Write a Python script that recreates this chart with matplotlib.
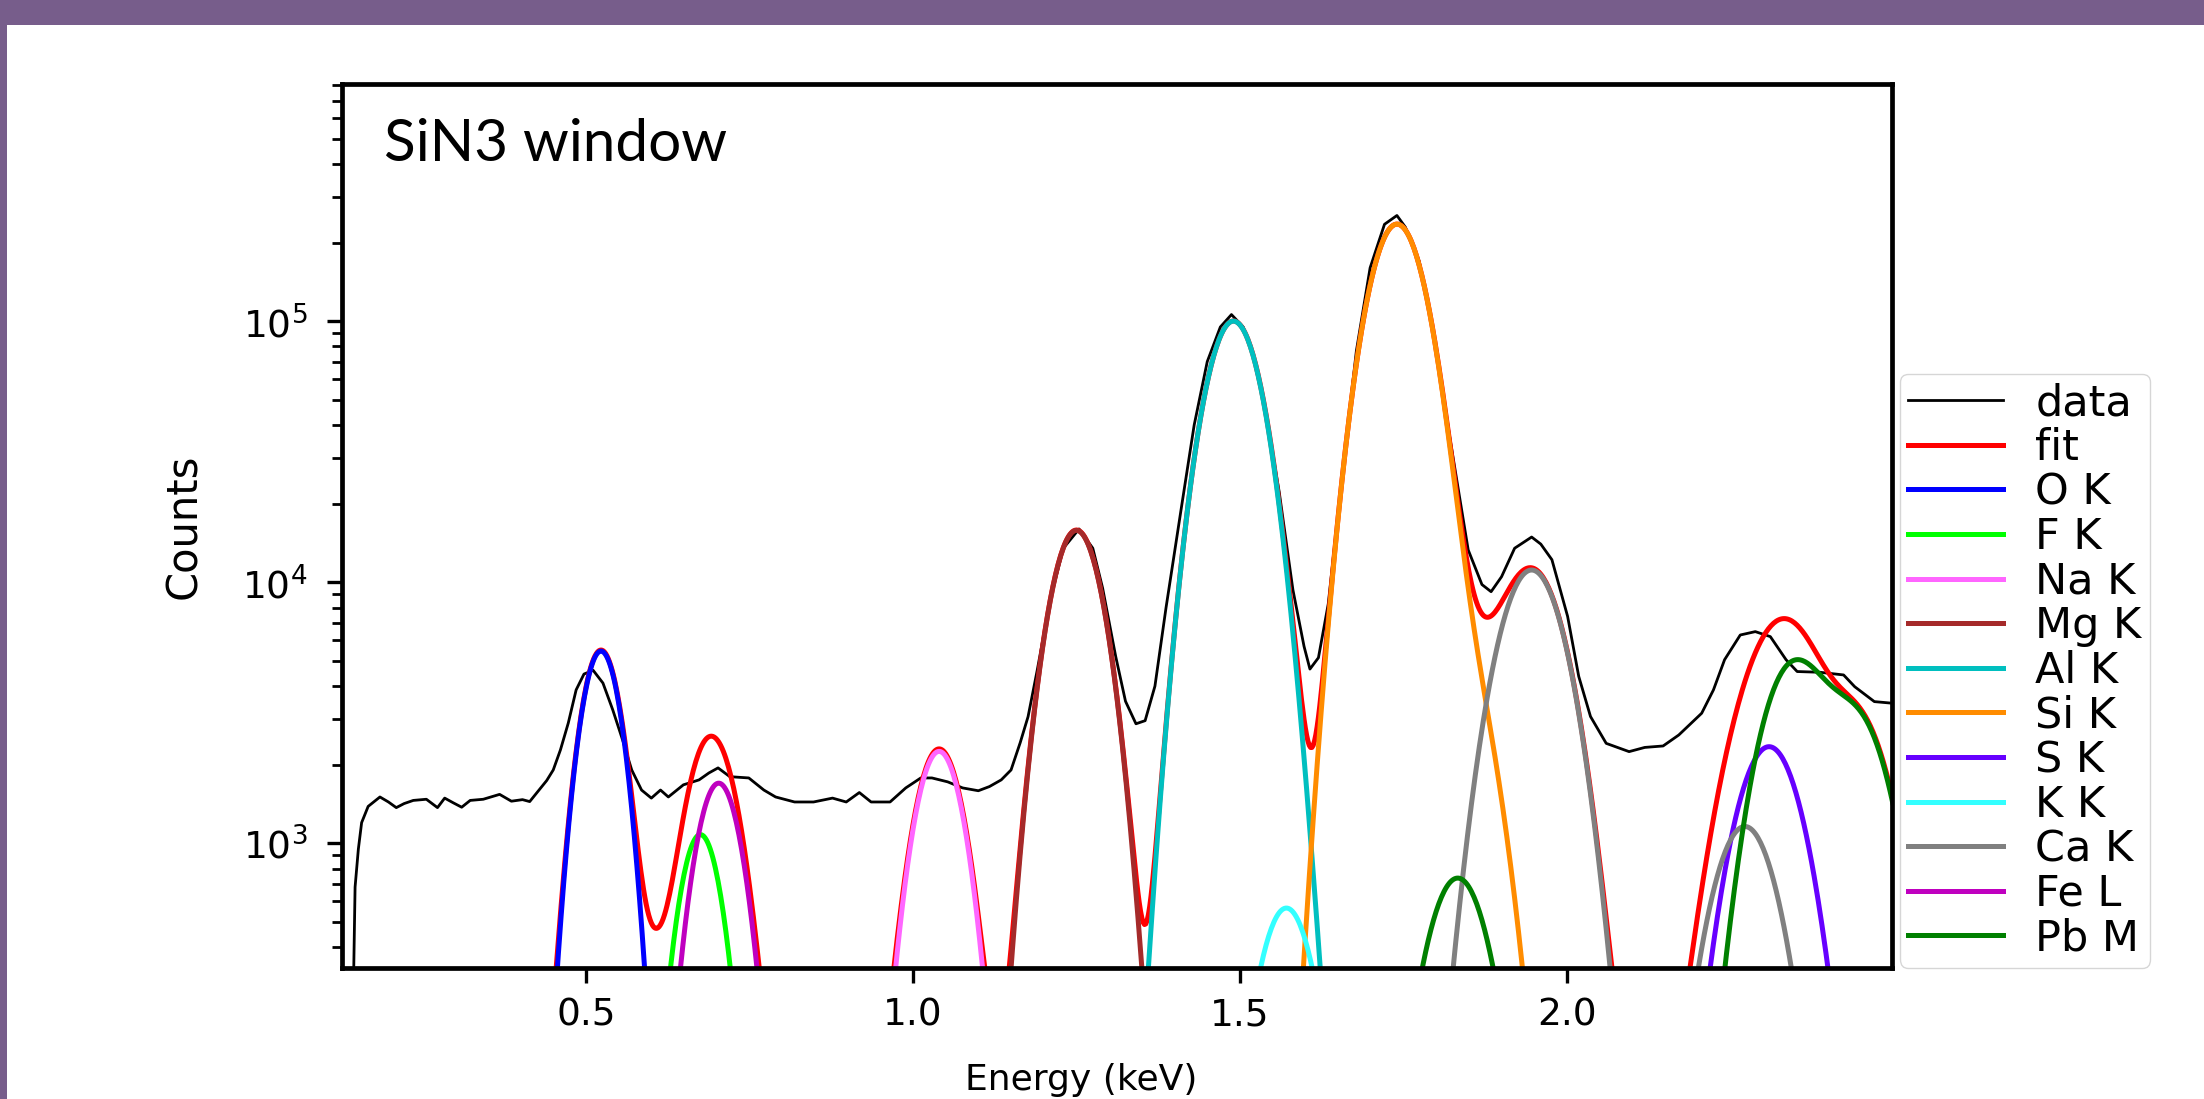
import numpy as np
import matplotlib
matplotlib.use('Agg')
import matplotlib.pyplot as plt
from matplotlib.patches import Rectangle

data_energy = [0.130, 0.145, 0.147, 0.152, 0.157, 0.167, 0.185, 0.198, 0.210, 0.222,
               0.236, 0.256, 0.273, 0.284, 0.297, 0.310, 0.323, 0.343, 0.368, 0.386,
               0.403, 0.414, 0.427, 0.440, 0.450, 0.461, 0.473, 0.485, 0.497, 0.511,
               0.526, 0.541, 0.556, 0.570, 0.585, 0.600, 0.614, 0.626, 0.649, 0.673,
               0.688, 0.702, 0.720, 0.749, 0.772, 0.790, 0.819, 0.848, 0.877, 0.898,
               0.918, 0.936, 0.965, 0.989, 1.012, 1.029, 1.053, 1.076, 1.100, 1.117,
               1.135, 1.150, 1.164, 1.176, 1.190, 1.210, 1.230, 1.254, 1.275, 1.290,
               1.310, 1.325, 1.341, 1.355, 1.370, 1.387, 1.410, 1.430, 1.450, 1.470,
               1.487, 1.505, 1.520, 1.538, 1.560, 1.581, 1.598, 1.607, 1.620, 1.635,
               1.656, 1.678, 1.699, 1.721, 1.740, 1.753, 1.774, 1.800, 1.820, 1.849,
               1.870, 1.884, 1.900, 1.920, 1.946, 1.960, 1.977, 2.001, 2.018, 2.036,
               2.060, 2.095, 2.119, 2.147, 2.171, 2.206, 2.224, 2.241, 2.265, 2.288,
               2.311, 2.335, 2.352, 2.387, 2.423, 2.440, 2.470, 2.495]
data_counts = [100, 335, 680, 950, 1200, 1385, 1505, 1440, 1370, 1420,
               1460, 1475, 1370, 1490, 1430, 1375, 1460, 1475, 1540, 1450,
               1470, 1445, 1585, 1740, 1910, 2280, 2890, 3870, 4450, 4600,
               4110, 3245, 2490, 1910, 1600, 1490, 1600, 1505, 1675, 1750,
               1860, 1945, 1800, 1780, 1600, 1505, 1440, 1440, 1490, 1440,
               1565, 1440, 1440, 1630, 1780, 1780, 1720, 1630, 1590, 1650,
               1750, 1910, 2430, 3055, 4600, 8600, 13500, 16000, 13500, 9500,
               5200, 3500, 2870, 2950, 4000, 8000, 19000, 40000, 70000, 95000,
               106000, 95000, 74000, 46700, 22200, 9350, 5680, 4650, 5140, 8260,
               25100, 76900, 160000, 235000, 254000, 229000, 170000, 80000, 37000, 13300,
               9800, 9200, 10500, 13500, 14900, 14000, 12200, 7400, 4360, 3060,
               2415, 2245, 2330, 2360, 2600, 3150, 3870, 5050, 6280, 6470,
               6190, 5050, 4550, 4520, 4415, 3980, 3490, 3445]

# fitted components: each one is a set of gaussian lines (centre keV, height, sigma keV)
labels = ['O K', 'F K', 'Na K', 'Mg K', 'Al K', 'Si K', 'S K', 'K K', 'Ca K', 'Fe L', 'Pb M']
colors = ['#0000ff', '#00ff00', '#ff66ff', '#a52a2a', '#00bfbf', '#ff8c00',
          '#6600ff', '#33ffff', '#808080', '#bf00bf', '#008000']
line_centers = [[0.523], [0.675], [1.040], [1.250], [1.490, 1.557], [1.740, 1.836],
                [2.309], [1.571], [1.946, 2.272], [0.703], [2.345, 2.443, 1.833]]
line_heights = [[5450], [1080], [2250], [15800], [100000, 300], [235000, 4500],
                [2345], [565], [11140, 1160], [1700], [4700, 2900, 736]]
line_sigmas = [[0.0282], [0.0298], [0.034], [0.036], [0.0385, 0.039], [0.0395, 0.042],
               [0.0456], [0.0384], [0.0453, 0.045], [0.0324], [0.045, 0.046, 0.043]]

# parts of the fit that are not drawn as a component
fit_background = 50
fit_shelf = [0.603, 260, 0.025]

energy = np.arange(0.12, 2.51, 0.002)

def component(centers, heights, sigmas):
  y = np.zeros_like(energy)
  for c, h, s in zip(centers, heights, sigmas):
    y += h * np.exp(-0.5 * ((energy - c) / s) ** 2)
  return y

comps = [component(c, h, s) for c, h, s in zip(line_centers, line_heights, line_sigmas)]
fit = fit_background + sum(comps) + component([fit_shelf[0]], [fit_shelf[1]], [fit_shelf[2]])

fig = plt.figure(figsize=(22.04, 10.99), dpi=100)
fig.patch.set_facecolor('white')
# purple slide frame
fig.patches.append(Rectangle((0, 1 - 25 / 1099), 1, 25 / 1099, transform=fig.transFigure,
                             facecolor='#775d8b', edgecolor='none', zorder=0))
fig.patches.append(Rectangle((0, 0), 7 / 2204, 1, transform=fig.transFigure,
                             facecolor='#775d8b', edgecolor='none', zorder=0))

ax = fig.add_axes([342 / 2204, 1 - 968 / 1099, 1550 / 2204, 884 / 1099])
ax.plot(data_energy, data_counts, color='black', lw=2.0, label='data')
ax.plot(energy, fit, color='red', lw=3.6, label='fit')
for y, lab, col in zip(comps, labels, colors):
  ax.plot(energy, y, color=col, lw=3.6, label=lab)

ax.set_yscale('log')
ax.set_xlim(0.127, 2.497)
ax.set_ylim(333, 8.1e5)
ax.set_xticks([0.5, 1.0, 1.5, 2.0])

for sp in ax.spines.values():
  sp.set_linewidth(3.4)
ax.tick_params(axis='both', which='major', length=11, width=2.4, labelsize=27)
ax.tick_params(axis='x', pad=10)
ax.tick_params(axis='y', pad=14)
ax.tick_params(axis='y', which='minor', length=7, width=2.0)

ax.set_xlabel('Energy (keV)', fontsize=26)
ax.set_ylabel('Counts', fontsize=30)
ax.xaxis.set_label_coords(0.477, -0.108)
ax.yaxis.set_label_coords(-0.088, 0.5)

ax.text(0.027, 0.962, 'SiN3 window', transform=ax.transAxes, ha='left', va='top',
        fontsize=42, family='Lato')

ax.legend(loc='lower left', bbox_to_anchor=(1.005, 0.0), borderaxespad=0,
          fontsize=31, handlelength=2.2, handletextpad=0.75, labelspacing=0.06,
          borderpad=0.2, frameon=True)

fig.savefig('out.png', dpi=100)
